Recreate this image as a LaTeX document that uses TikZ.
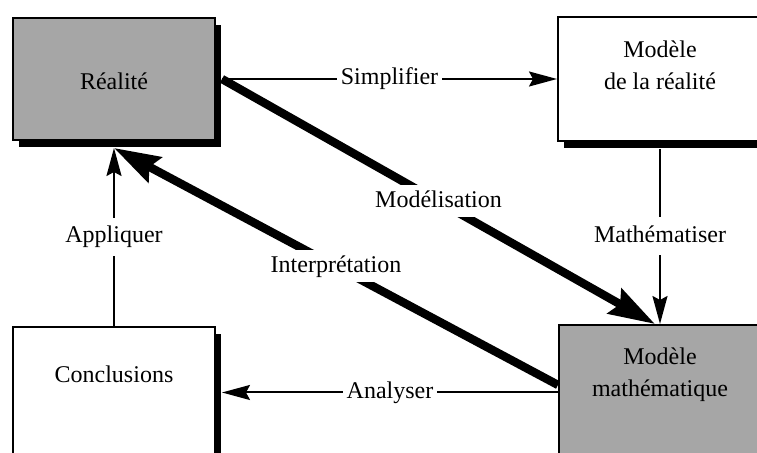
\documentclass[tikz,border=0pt]{standalone}
\usepackage{fontspec}
\setmainfont{Liberation Serif}
\usetikzlibrary{arrows.meta,shadows}

\begin{document}
\begin{tikzpicture}[x=0.5pt, y=-0.5pt,
    font=\fontsize{12}{16}\selectfont,
    block/.style ={rectangle, draw=black, line width=1pt, fill=white,
      drop shadow={shadow xshift=3pt, shadow yshift=-3.5pt, fill=black, opacity=1}},
    block_gray/.style ={block, fill=black!35},
    txt/.style ={align=center, inner sep=0pt},
    line/.style ={draw, line width=1pt, -{Stealth[length=14pt, width=7.5pt, inset=2pt]}},
    bigline/.style ={draw, line width=4.2pt, -{Stealth[length=23pt, width=14pt, inset=3pt]}},
    lbl/.style ={fill=white, inner xsep=2pt, inner ysep=3.5pt,
      text height=9pt, text depth=3pt},
    biglbl/.style ={lbl, inner xsep=1pt, inner ysep=2pt}]
    % frame of the picture
    \useasboundingbox (0,0) rectangle (757,453);
    \fill [white] (0,0) rectangle (757,453);
    \clip (0,0) rectangle (757,453);
    % boxes
    \node [block_gray, minimum width=101pt, minimum height=61pt] (realBox) at (114,79) {};
    \node [block, minimum width=102pt, minimum height=62pt] (modBox) at (660,79) {};
    \node [block, minimum width=101pt, minimum height=65.5pt] (conclBox) at (114,392.5) {};
    \node [block_gray, minimum width=101pt, minimum height=67.5pt] (mathBox) at (660,392.5) {};
    % box texts
    \node [txt, anchor=base] (real) at (114,90) {Réalité};
    \node [txt] (mod) at (660,65) {Modèle\\de la réalité};
    \node [txt, anchor=base] (concl) at (114,383) {Conclusions};
    \node [txt] (math) at (660,375) {Modèle\\mathématique};
    % connecting boxes with paths
    \path [line] ([xshift=3pt]realBox.east) -- node [lbl] (simp) {Simplifier} (modBox.west);
    \path [line] ([yshift=-3.5pt]modBox.south) -- node [lbl] (mathz) {Mathématiser} (mathBox.north);
    \path [line] (mathBox.west) -- node [lbl] (anal) {Analyser} ([xshift=3pt]conclBox.east);
    \path [line] (conclBox.north) -- node [lbl] (appl) {Appliquer} ([yshift=-3.5pt]realBox.south);
    \path [bigline] ([xshift=3pt]realBox.east) -- node [biglbl] (modl) {Modélisation} ([xshift=-2.5pt]mathBox.north);
    \path [bigline] ([yshift=3.75pt]mathBox.west) -- node [biglbl] (interp) {Interprétation} ([yshift=-3.5pt]realBox.south);
\end{tikzpicture}
\end{document}
